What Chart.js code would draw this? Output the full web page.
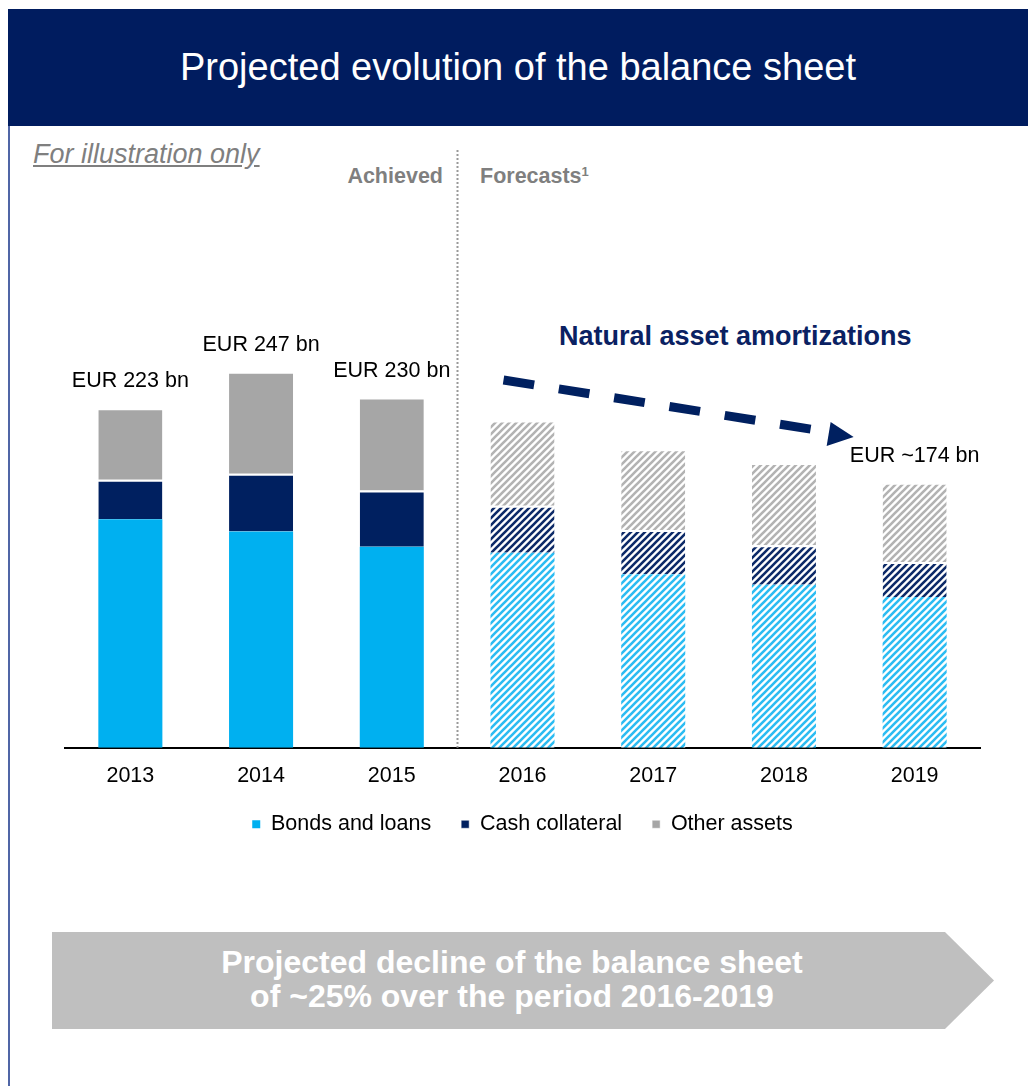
<!DOCTYPE html>
<html>
<head>
<meta charset="utf-8">
<script src="https://cdn.jsdelivr.net/npm/chart.js@4.4.1/dist/chart.umd.min.js"></script>
<style>
  html, body { margin: 0; padding: 0; background: #fff; }
  body { width: 1028px; height: 1086px; position: relative; overflow: hidden; font-family: "Liberation Sans", Arial, sans-serif; }
  #banner { position: absolute; left: 8px; top: 9px; width: 1020px; height: 117px; background: #001c5f; color: #fff; font-size: 38px; text-align: center; line-height: 117px; }
  #leftRule { position: absolute; left: 8px; top: 126px; width: 2px; height: 960px; background: #5066a6; }
  #note { position: absolute; left: 33px; top: 139px; font-size: 27px; font-style: italic; color: #7f7f7f; text-decoration: underline; }
  .phase { position: absolute; top: 164px; font-size: 21.5px; font-weight: bold; color: #7f7f7f; }
  #achieved { right: 585px; }
  #forecasts { left: 480px; }
  #forecasts sup { font-size: 13px; vertical-align: 7px; }
  #amort { position: absolute; left: 559px; top: 321px; font-size: 27px; font-weight: bold; color: #0a2162; }
  #chartBox { position: absolute; left: 0; top: 127px; width: 1028px; height: 718px; }
  #decline { position: absolute; left: 52px; top: 932px; width: 942px; height: 97px; background: #bfbfbf;
    clip-path: polygon(0 0, 893px 0, 942px 50%, 893px 100%, 0 100%); }
  #decline div { position: absolute; left: 0; width: 920px; text-align: center; color: #fff; font-weight: bold; font-size: 32px; line-height: 34px; top: 13px; }
</style>
</head>
<body>
<div id="banner">Projected evolution of the balance sheet</div>
<div id="leftRule"></div>
<div id="note">For illustration only</div>
<div class="phase" id="achieved">Achieved</div>
<div class="phase" id="forecasts">Forecasts<sup>1</sup></div>
<div id="amort">Natural asset amortizations</div>
<div id="chartBox"><canvas id="balanceChart"></canvas></div>
<div id="decline"><div>Projected decline of the balance sheet<br>of ~25% over the period 2016-2019</div></div>

<script>
// 연도별 대차대조표 구성 (EUR bn)
const years = ["2013", "2014", "2015", "2016", "2017", "2018", "2019"];
const bondsLoans = [150, 142, 132, 128, 114, 107, 99];
const cashCollateral = [26, 38, 37, 31, 29, 26, 23];
const otherAssets = [47, 67, 61, 56, 53, 54, 52];
const totalLabels = ["EUR 223 bn", "EUR 247 bn", "EUR 230 bn", "", "", "", "EUR ~174 bn"];
const firstForecast = 3; // 2016부터 전망치

const COLOR_BONDS = "#00b0f0";
const COLOR_CASH = "#002060";
const COLOR_OTHER = "#a6a6a6";
const FONT = '"Liberation Sans", Arial, sans-serif';

// 전망치용 사선 패턴
function makeHatch(color) {
  const size = 7;
  const c = document.createElement("canvas");
  c.width = size;
  c.height = size;
  const g = c.getContext("2d");
  g.fillStyle = "#fff";
  g.fillRect(0, 0, size, size);
  g.strokeStyle = color;
  g.lineWidth = 2.6;
  g.beginPath();
  for (let k = -1; k <= 1; k++) {
    g.moveTo(k * size - 1, size + 1);
    g.lineTo(k * size + size + 1, -1);
  }
  g.stroke();
  return g.createPattern(c, "repeat");
}

function fills(color, hatchColor) {
  const hatch = makeHatch(hatchColor);
  return years.map((y, i) => (i < firstForecast ? color : hatch));
}

// 막대 위 합계 라벨, 구분 점선, 감소 화살표
const overlayPlugin = {
  id: "overlay",
  afterDatasetsDraw(chart) {
    const { ctx, scales } = chart;
    const x = scales.x;
    const y = scales.y;
    ctx.save();

    // 합계 라벨
    ctx.fillStyle = "#000";
    ctx.font = "21.5px " + FONT;
    ctx.textAlign = "center";
    ctx.textBaseline = "bottom";
    years.forEach((yr, i) => {
      if (!totalLabels[i]) return;
      const total = bondsLoans[i] + cashCollateral[i] + otherAssets[i];
      ctx.fillText(totalLabels[i], x.getPixelForValue(i), y.getPixelForValue(total) - 16);
    });

    // 실적 / 전망 구분선
    const divX = Math.round((x.getPixelForValue(firstForecast - 1) + x.getPixelForValue(firstForecast)) / 2) + 0.5;
    ctx.strokeStyle = "#999";
    ctx.lineWidth = 2;
    ctx.setLineDash([2, 2]);
    ctx.beginPath();
    ctx.moveTo(divX, 23);
    ctx.lineTo(divX, y.bottom);
    ctx.stroke();

    // 감소 추세 화살표
    const x0 = x.getPixelForValue(firstForecast) - 19;
    const x1 = x.getPixelForValue(6) - 86;
    const y0 = 253;
    const y1 = 305;
    ctx.strokeStyle = COLOR_CASH;
    ctx.lineWidth = 9;
    ctx.setLineDash([31, 25]);
    ctx.beginPath();
    ctx.moveTo(x0, y0);
    ctx.lineTo(x1, y1);
    ctx.stroke();
    ctx.setLineDash([]);
    ctx.fillStyle = COLOR_CASH;
    ctx.beginPath();
    ctx.moveTo(x1 + 2, y1 - 10);
    ctx.lineTo(x1 + 25, y1 + 5);
    ctx.lineTo(x1 - 2, y1 + 14);
    ctx.closePath();
    ctx.fill();
    ctx.restore();
  },
};

const segBorder = { top: 2, left: 0, right: 0, bottom: 0 };

new Chart(document.getElementById("balanceChart"), {
  type: "bar",
  data: {
    labels: years,
    datasets: [
      { label: "Bonds and loans", data: bondsLoans, backgroundColor: fills(COLOR_BONDS, "#2cbcf2"), borderColor: "#fff", borderWidth: 0 },
      { label: "Cash collateral", data: cashCollateral, backgroundColor: fills(COLOR_CASH, "#0d2a68"), borderColor: "#fff", borderWidth: segBorder },
      { label: "Other assets", data: otherAssets, backgroundColor: fills(COLOR_OTHER, "#b3b3b3"), borderColor: "#fff", borderWidth: segBorder },
    ],
  },
  options: {
    responsive: true,
    maintainAspectRatio: false,
    animation: false,
    layout: { padding: { left: 65, right: 48, top: 164, bottom: 0 } },
    datasets: { bar: { barPercentage: 0.49, categoryPercentage: 1, borderSkipped: false } },
    plugins: {
      legend: {
        position: "bottom",
        labels: {
          usePointStyle: true,
          pointStyle: "rect",
          boxWidth: 8,
          boxHeight: 8,
          padding: 30,
          color: "#000",
          font: { family: FONT, size: 21.5 },
        },
      },
      tooltip: { enabled: false },
    },
    scales: {
      x: {
        stacked: true,
        grid: { display: false, drawTicks: false },
        border: { display: true, color: "#000", width: 2 },
        ticks: { color: "#000", padding: 15, font: { family: FONT, size: 21.5 } },
        // 범례를 축 라벨 쪽으로 당김
        afterFit(scale) {
          scale.height -= 20;
        },
      },
      y: {
        stacked: true,
        display: false,
        min: 0,
        max: 300,
      },
    },
  },
  plugins: [overlayPlugin],
});
</script>
</body>
</html>
